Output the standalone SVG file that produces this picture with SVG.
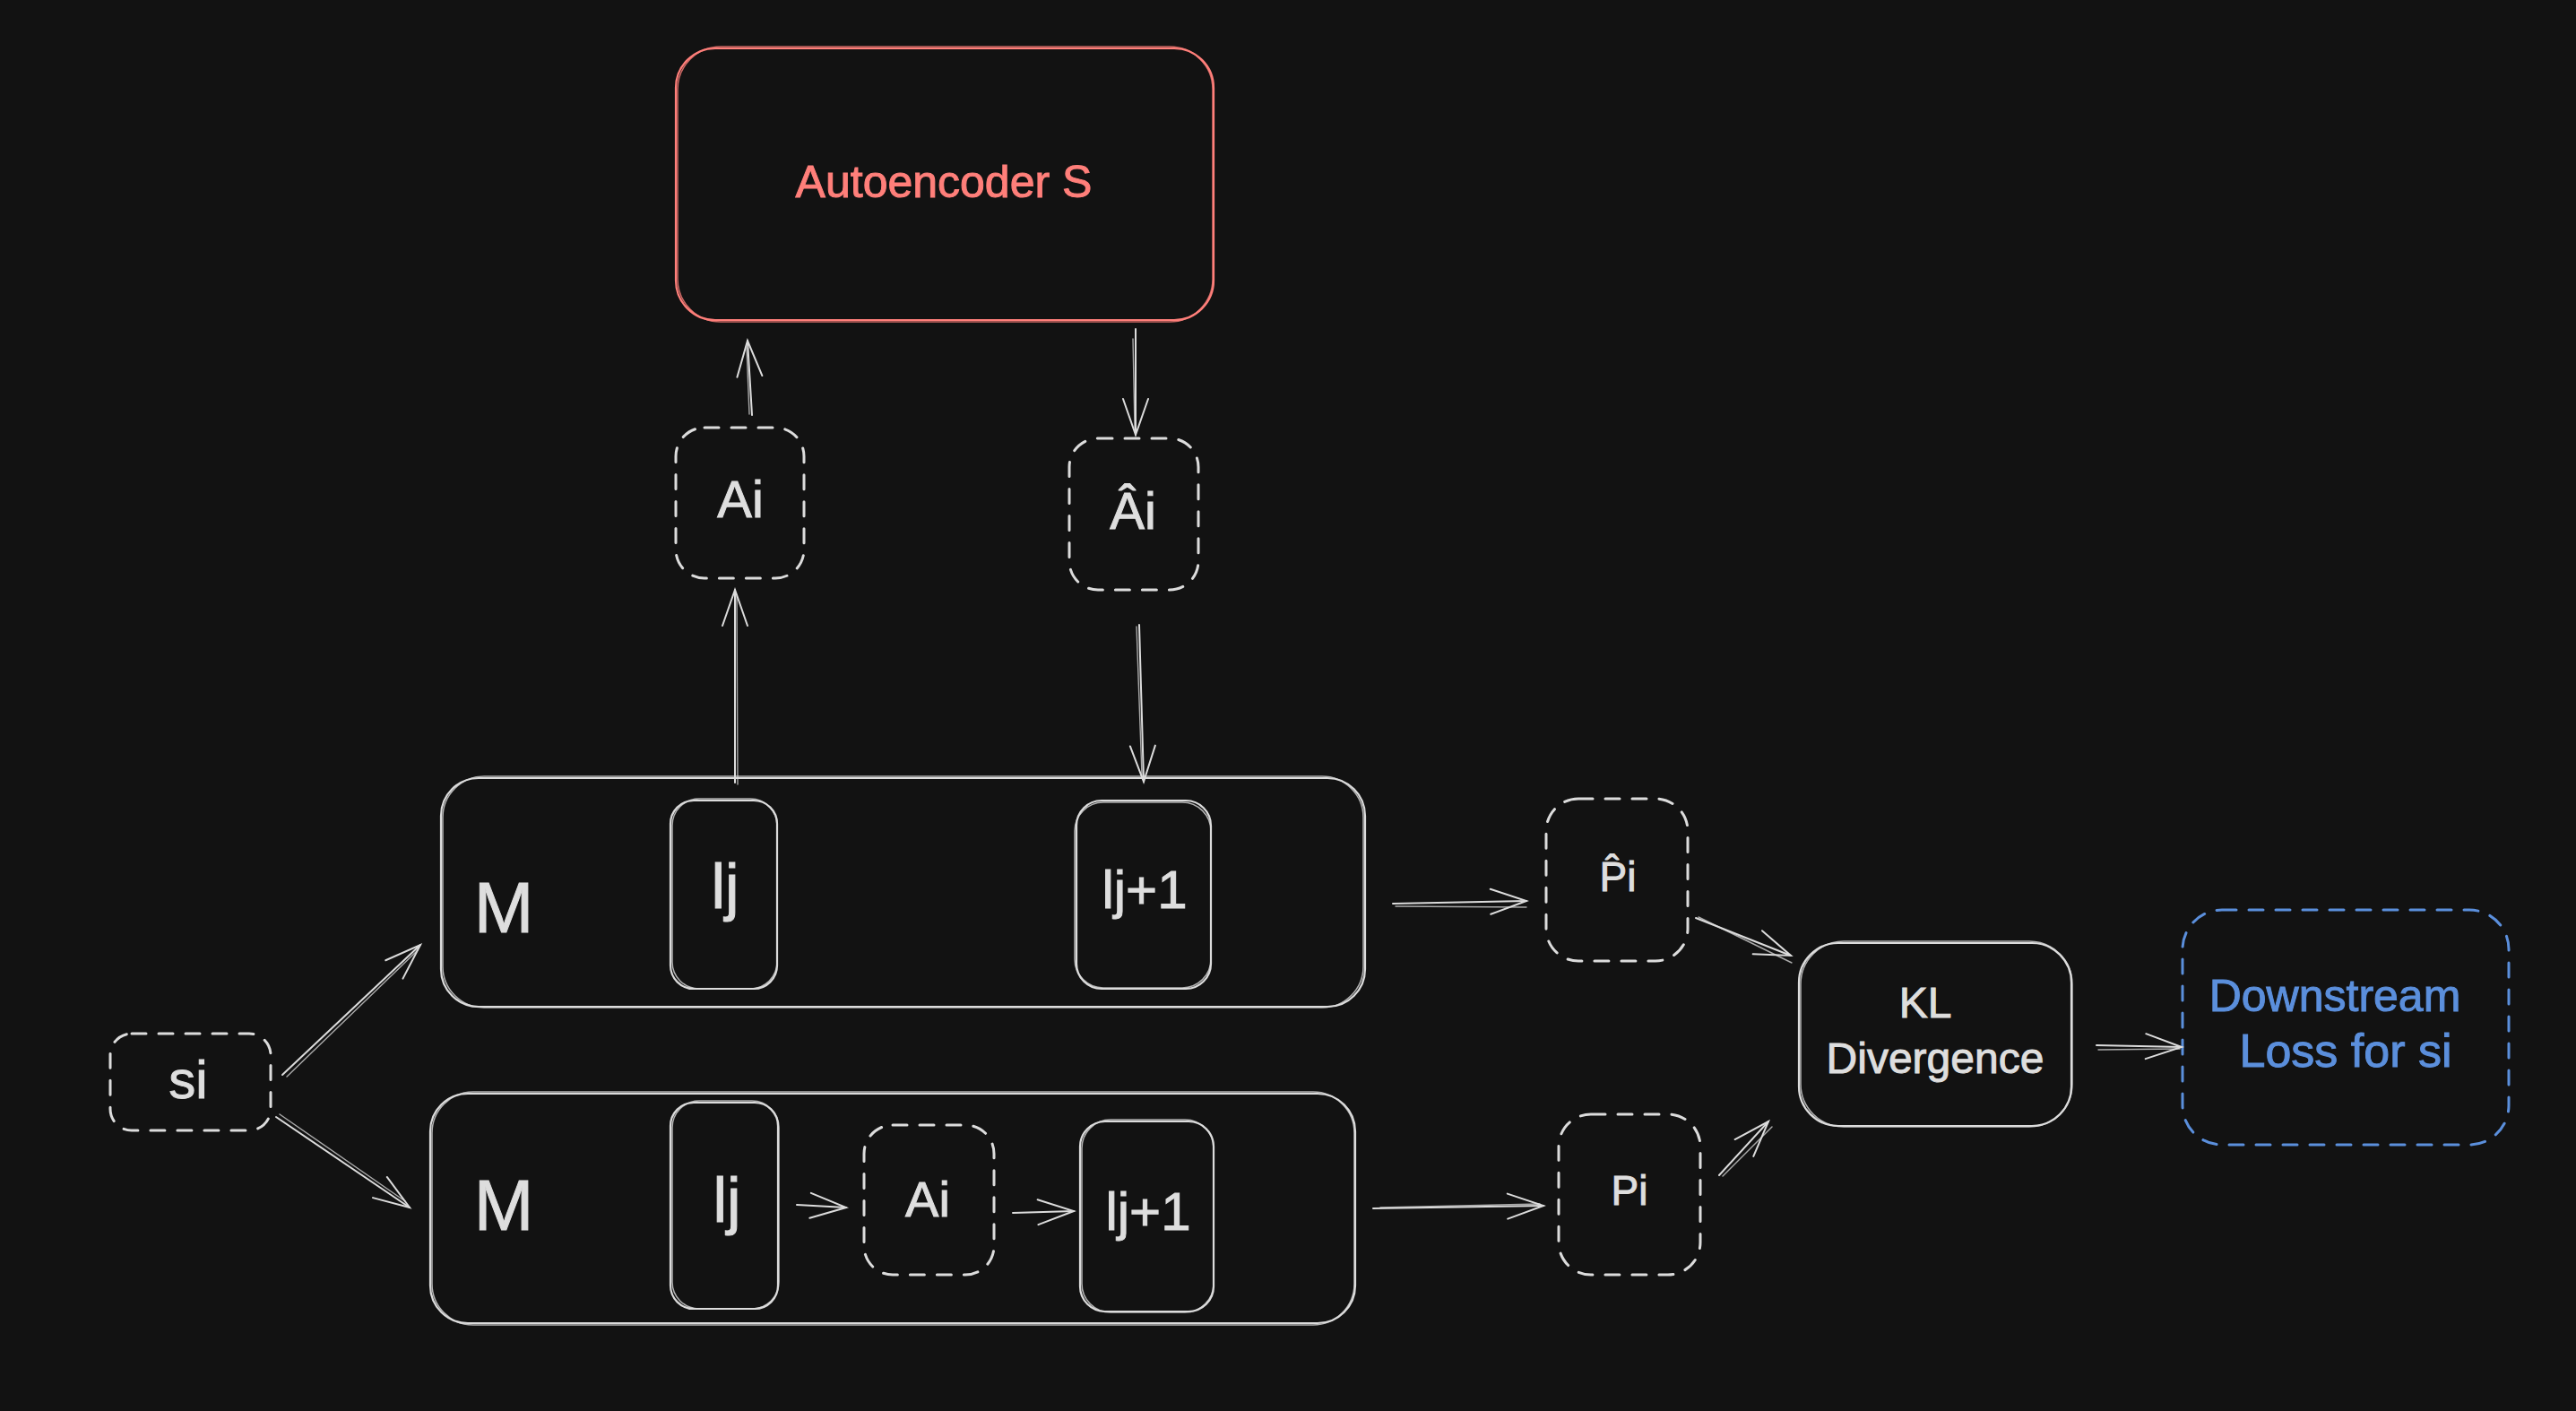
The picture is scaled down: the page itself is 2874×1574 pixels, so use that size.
<svg xmlns="http://www.w3.org/2000/svg" width="2874" height="1574" viewBox="0 0 2874 1574">
<defs>
<style>
.bg{fill:#121212}
.box{fill:#121212;stroke:#dcdcdc;stroke-width:2.2}
.box2{fill:none;stroke:#dcdcdc;stroke-width:1.5;opacity:.8}
.dash{fill:#121212;stroke:#dcdcdc;stroke-width:3;stroke-dasharray:16 14;stroke-linecap:round}
.red{fill:#121212;stroke:#ff7f7a;stroke-width:2.2}
.red2{fill:none;stroke:#ff7f7a;stroke-width:1.5;opacity:.8}
.blue{fill:#121212;stroke:#5b8fdc;stroke-width:3;stroke-dasharray:16 14;stroke-linecap:round}
.t{font-family:"Liberation Sans",Arial,sans-serif;fill:#dedede;stroke:#dedede;stroke-width:1;text-anchor:middle}
.tr{font-family:"Liberation Sans",Arial,sans-serif;fill:#ff7f7a;stroke:#ff7f7a;stroke-width:1;text-anchor:middle}
.tb{font-family:"Liberation Sans",Arial,sans-serif;fill:#5b8fdc;stroke:#5b8fdc;stroke-width:1;text-anchor:middle}
.ln{fill:none;stroke:#dcdcdc;stroke-width:2;stroke-linecap:round}
.ln2{fill:none;stroke:#dcdcdc;stroke-width:1.4;stroke-linecap:round;opacity:.75}
</style>
<marker id="arr" markerUnits="userSpaceOnUse" markerWidth="46" markerHeight="34" viewBox="-43 -17 46 34" refX="0" refY="0" orient="auto">
<path d="M-40,-14 L0,0 L-40,14" fill="none" stroke="#dcdcdc" stroke-width="2" stroke-linecap="round"/>
</marker>
</defs>
<rect class="bg" x="0" y="0" width="2874" height="1574"/>

<g id="autoencoder">
<rect class="red" x="754" y="54" width="600" height="303" rx="44"/>
<rect class="red2" x="756" y="52" width="597" height="307" rx="48"/>
<text class="tr" x="1053" y="220" font-size="50">Autoencoder S</text>
</g>

<g id="ai-top">
<rect class="dash" x="754" y="477" width="143" height="168" rx="32"/>
<text class="t" x="826" y="577" font-size="58">Ai</text>
</g>

<g id="ai-hat">
<rect class="dash" x="1193" y="489" width="144" height="169" rx="32"/>
<text class="t" x="1264" y="590" font-size="58">Âi</text>
</g>

<g id="m-top">
<rect class="box" x="492" y="868" width="1031" height="255" rx="42"/>
<rect class="box2" x="494" y="866" width="1027" height="258" rx="46"/>
<text class="t" x="562" y="1040" font-size="80">M</text>
<g id="lj-top">
<rect class="box" x="748" y="893" width="119" height="210" rx="26"/>
<rect class="box2" x="750" y="891" width="117" height="212" rx="30"/>
<text class="t" x="809" y="1013" font-size="70">lj</text>
</g>
<g id="lj1-top">
<rect class="box" x="1201" y="893" width="150" height="210" rx="28"/>
<rect class="box2" x="1199" y="895" width="152" height="207" rx="32"/>
<text class="t" x="1277" y="1013" font-size="60">lj+1</text>
</g>
</g>

<g id="m-bot">
<rect class="box" x="480" y="1220" width="1032" height="256" rx="42"/>
<rect class="box2" x="482" y="1218" width="1029" height="260" rx="46"/>
<text class="t" x="562" y="1372" font-size="80">M</text>
<g id="lj-bot">
<rect class="box" x="748" y="1230" width="120" height="230" rx="26"/>
<rect class="box2" x="750" y="1228" width="119" height="232" rx="30"/>
<text class="t" x="811" y="1363" font-size="70">lj</text>
</g>
<g id="ai-bot">
<rect class="dash" x="964" y="1255" width="145" height="167" rx="32"/>
<text class="t" x="1035" y="1357" font-size="56">Ai</text>
</g>
<g id="lj1-bot">
<rect class="box" x="1205" y="1251" width="149" height="212" rx="28"/>
<rect class="box2" x="1207" y="1249" width="147" height="215" rx="32"/>
<text class="t" x="1281" y="1372" font-size="60">lj+1</text>
</g>
</g>

<g id="si">
<rect class="dash" x="123" y="1153" width="179" height="108" rx="24"/>
<text class="t" x="210" y="1225" font-size="60">si</text>
</g>

<g id="p-hat">
<rect class="dash" x="1725" y="891" width="158" height="181" rx="36"/>
<text class="t" x="1805" y="994" font-size="46">P̂i</text>
</g>

<g id="pi">
<rect class="dash" x="1739" y="1243" width="158" height="179" rx="36"/>
<text class="t" x="1818" y="1344" font-size="46">Pi</text>
</g>

<g id="kl">
<rect class="box" x="2007" y="1052" width="304" height="204" rx="44"/>
<rect class="box2" x="2009" y="1050" width="303" height="207" rx="48"/>
<text class="t" x="2148" y="1135" font-size="48">KL</text>
<text class="t" x="2159" y="1197" font-size="48">Divergence</text>
</g>

<g id="downstream">
<rect class="blue" x="2435" y="1015" width="364" height="262" rx="44"/>
<text class="tb" x="2605" y="1128" font-size="50">Downstream</text>
<text class="tb" x="2617" y="1190" font-size="52">Loss for si</text>
</g>

<g id="connectors">
<line class="ln" x1="820" y1="873" x2="820" y2="658" marker-end="url(#arr)"/>
<line class="ln2" x1="823" y1="875" x2="822" y2="665"/>
<line class="ln" x1="839" y1="463" x2="834" y2="380" marker-end="url(#arr)"/>
<line class="ln2" x1="836" y1="462" x2="833" y2="388"/>
<line class="ln" x1="1267" y1="367" x2="1267" y2="485" marker-end="url(#arr)"/>
<line class="ln2" x1="1264" y1="378" x2="1266" y2="478"/>
<line class="ln" x1="1271" y1="697" x2="1276" y2="872" marker-end="url(#arr)"/>
<line class="ln2" x1="1268" y1="699" x2="1274" y2="865"/>
<line class="ln" x1="315" y1="1199" x2="469" y2="1054" marker-end="url(#arr)"/>
<line class="ln2" x1="320" y1="1201" x2="466" y2="1060"/>
<line class="ln" x1="308" y1="1246" x2="457" y2="1347" marker-end="url(#arr)"/>
<line class="ln2" x1="312" y1="1243" x2="452" y2="1340"/>
<line class="ln" x1="889" y1="1344" x2="944" y2="1347" marker-end="url(#arr)"/>
<line class="ln" x1="1130" y1="1353" x2="1198" y2="1351" marker-end="url(#arr)"/>
<line class="ln" x1="1554" y1="1008" x2="1703" y2="1005" marker-end="url(#arr)"/>
<line class="ln2" x1="1557" y1="1011" x2="1703" y2="1012"/>
<line class="ln" x1="1532" y1="1348" x2="1722" y2="1345" marker-end="url(#arr)"/>
<line class="ln2" x1="1540" y1="1347" x2="1718" y2="1343"/>
<line class="ln" x1="1892" y1="1024" x2="1998" y2="1066" marker-end="url(#arr)"/>
<line class="ln2" x1="1895" y1="1023" x2="1999" y2="1074"/>
<line class="ln" x1="1918" y1="1311" x2="1973" y2="1251" marker-end="url(#arr)"/>
<line class="ln2" x1="1922" y1="1312" x2="1977" y2="1257"/>
<line class="ln" x1="2339" y1="1166" x2="2434" y2="1168" marker-end="url(#arr)"/>
<line class="ln2" x1="2341" y1="1171" x2="2432" y2="1170"/>
</g>
</svg>
